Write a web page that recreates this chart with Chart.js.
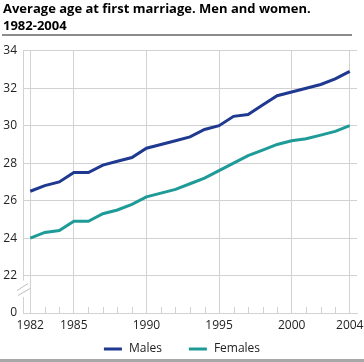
<!DOCTYPE html>
<html>
<head>
<meta charset="utf-8">
<script src="https://cdn.jsdelivr.net/npm/chart.js@4/dist/chart.umd.min.js"></script>
<style>
    html, body { margin: 0; padding: 0; background: #fff; }
</style>
</head>
<body>
<canvas id="myChart" width="364" height="362"></canvas>
<script>
const titleLines = ['Average age at first marriage. Men and women.', '1982-2004'];
const years = [1982, 1983, 1984, 1985, 1986, 1987, 1988, 1989, 1990, 1991, 1992, 1993,
    1994, 1995, 1996, 1997, 1998, 1999, 2000, 2001, 2002, 2003, 2004];
const males = [26.5, 26.8, 27.0, 27.5, 27.5, 27.9, 28.1, 28.3, 28.8, 29.0, 29.2, 29.4,
    29.8, 30.0, 30.5, 30.6, 31.1, 31.6, 31.8, 32.0, 32.2, 32.5, 32.9];
const females = [24.0, 24.3, 24.4, 24.9, 24.9, 25.3, 25.5, 25.8, 26.2, 26.4, 26.6, 26.9,
    27.2, 27.6, 28.0, 28.4, 28.7, 29.0, 29.2, 29.3, 29.5, 29.7, 30.0];
const labelledYears = [1982, 1985, 1990, 1995, 2000, 2004];
const yTicks = [20, 22, 24, 26, 28, 30, 32, 34]; // 20 sits under the axis break, shown as 0
const seriesNames = ['Males', 'Females'];

const FONT = "'Open Sans', sans-serif";
const gridColor = '#d2d2d2';

// rules, axis break, small year ticks and the legend
const decor = {
    id: 'decor',
    afterDraw(chart) {
        const ctx = chart.ctx;
        const area = chart.chartArea;
        const x = chart.scales.x;
        const y = chart.scales.y;
        ctx.save();

        ctx.fillStyle = '#8c8c8c';
        ctx.fillRect(2, 34, 350, 2);
        ctx.fillStyle = '#a8a8a8';
        ctx.fillRect(0, 359, 364, 3);

        // small ticks for unlabelled years
        ctx.strokeStyle = gridColor;
        ctx.lineWidth = 1;
        years.forEach((yr, i) => {
            if (labelledYears.includes(yr)) return;
            const px = Math.round(x.getPixelForValue(i)) + 0.5;
            ctx.beginPath();
            ctx.moveTo(px, area.bottom);
            ctx.lineTo(px, area.bottom - 6);
            ctx.stroke();
        });

        // break in the y axis
        const ax = area.left;
        const y22 = y.getPixelForValue(22);
        ctx.fillStyle = '#fff';
        ctx.fillRect(ax - 2, y22 + 5, 4, area.bottom - y22 - 21);
        ctx.strokeStyle = '#bdbdbd';
        ctx.beginPath();
        ctx.moveTo(ax - 6, y22 + 15);
        ctx.lineTo(ax + 5, y22 + 8);
        ctx.moveTo(ax - 5, y22 + 20);
        ctx.lineTo(ax + 7, y22 + 13);
        ctx.stroke();

        // legend
        ctx.font = '12px ' + FONT;
        ctx.textBaseline = 'middle';
        const sw = 18, gap = 7, itemGap = 27;
        const widths = chart.data.datasets.map(d => sw + gap + ctx.measureText(d.label).width);
        const total = widths.reduce((a, b) => a + b, 0) + itemGap * (widths.length - 1);
        let lx = 182 - total / 2;
        const ly = 349;
        chart.data.datasets.forEach((d, i) => {
            ctx.fillStyle = d.borderColor;
            ctx.fillRect(lx, ly - 1.5, sw, 3);
            ctx.fillStyle = '#222';
            ctx.fillText(d.label, lx + sw + gap, ly);
            lx += widths[i] + itemGap;
        });
        ctx.restore();
    }
};

const ctx = document.getElementById('myChart').getContext('2d');
const myChart = new Chart(ctx, {
    type: 'line',
    data: {
        labels: years,
        datasets: [{
            label: seriesNames[0],
            data: males,
            borderColor: '#1f3990',
            backgroundColor: '#1f3990',
            borderWidth: 3,
            pointRadius: 0,
            tension: 0
        }, {
            label: seriesNames[1],
            data: females,
            borderColor: '#1f9b97',
            backgroundColor: '#1f9b97',
            borderWidth: 3,
            pointRadius: 0,
            tension: 0
        }]
    },
    options: {
        responsive: false,
        animation: false,
        events: [],
        layout: { padding: { left: 3, right: 7, top: 0, bottom: 0 } },
        plugins: {
            legend: { display: false },
            tooltip: { enabled: false },
            title: {
                display: true,
                text: titleLines,
                align: 'start',
                color: '#000',
                font: { family: FONT, size: 13, weight: 'bold', lineHeight: 1.3 },
                padding: { top: 1, bottom: 16 }
            }
        },
        scales: {
            x: {
                type: 'category',
                offset: true,
                grid: {
                    drawTicks: false,
                    color: c => labelledYears.includes(years[c.index]) ? gridColor : 'rgba(0,0,0,0)'
                },
                border: { display: true, color: gridColor },
                ticks: {
                    autoSkip: false,
                    maxRotation: 0,
                    padding: 5,
                    color: '#222',
                    font: { family: FONT, size: 12 },
                    callback: (v, i) => labelledYears.includes(years[i]) ? String(years[i]) : ''
                },
                afterFit(scale) {
                    scale.height = 49;
                    scale.paddingLeft = 0;
                    scale.paddingRight = 0;
                }
            },
            y: {
                min: 20,
                max: 34,
                afterBuildTicks(scale) {
                    scale.ticks = yTicks.map(v => ({ value: v }));
                },
                grid: {
                    drawTicks: false,
                    color: c => c.tick && c.tick.value === 20 ? 'rgba(0,0,0,0)' : gridColor
                },
                border: { display: true, color: gridColor },
                ticks: {
                    padding: 6,
                    color: '#222',
                    font: { family: FONT, size: 12 },
                    callback: v => v === 20 ? '0' : String(v)
                },
                afterFit(scale) {
                    scale.width = 20;
                    scale.paddingTop = 0;
                    scale.paddingBottom = 0;
                }
            }
        }
    },
    plugins: [decor]
});
</script>
</body>
</html>
